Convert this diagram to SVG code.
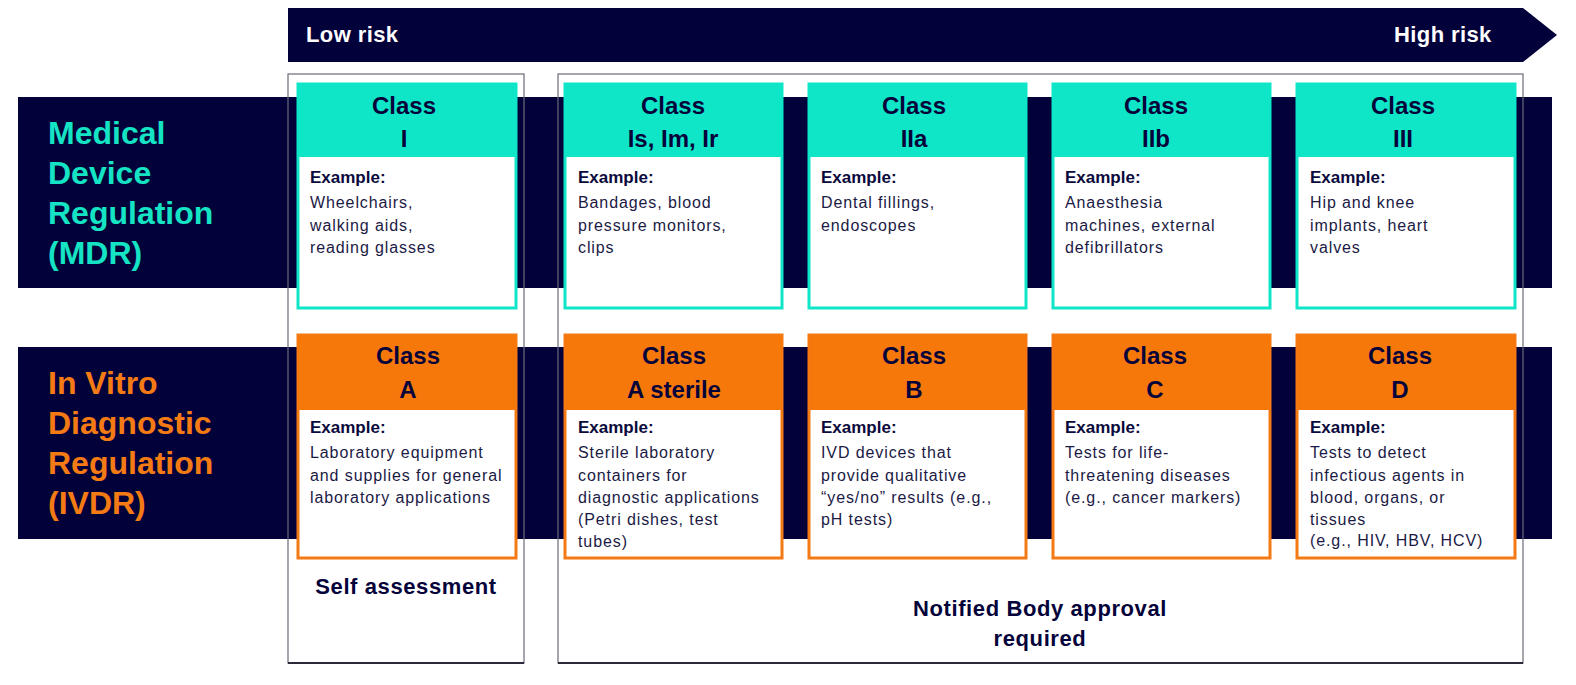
<svg xmlns="http://www.w3.org/2000/svg" width="1576" height="685" viewBox="0 0 1576 685">
<style>
.bg{fill:#ffffff}
.navy{fill:#03013a}
.box{fill:none;stroke:#6b6b78;stroke-width:1.2}
.boxb{stroke:#2a2a3a;stroke-width:2}
.risk{font-family:"Liberation Sans",Arial,sans-serif;font-weight:bold;font-size:22px;fill:#ffffff;letter-spacing:0.4px}
.lab{font-family:"Liberation Sans",Arial,sans-serif;font-weight:bold;font-size:32px}
.mdr{fill:#14e3c4}
.ivdr{fill:#f47b14}
.tcard{fill:#ffffff;stroke:#0fe6c8;stroke-width:3}
.thead{fill:#0fe6c8}
.ocard{fill:#ffffff;stroke:#f47b14;stroke-width:3}
.ohead{fill:#f7780a}
.cls{font-family:"Liberation Sans",Arial,sans-serif;font-weight:bold;font-size:24px;fill:#05033a;text-anchor:middle}
.ex{font-family:"Liberation Sans",Arial,sans-serif;font-weight:bold;font-size:17px;fill:#0b0a3c}
.body{font-family:"Liberation Sans",Arial,sans-serif;font-size:16px;fill:#1b1a45;letter-spacing:0.9px}
.foot{font-family:"Liberation Sans",Arial,sans-serif;font-weight:bold;font-size:22px;fill:#05033a;text-anchor:middle;letter-spacing:0.6px}
</style>
<rect class="bg" x="0" y="0" width="1576" height="685"/>

<g id="risk-arrow">
<polygon class="navy" points="288,8 1523,8 1557,35 1523,62 288,62"/>
<text class="risk" x="306" y="42">Low risk</text>
<text class="risk" x="1394" y="42">High risk</text>
</g>

<g id="bands">
<rect class="navy" x="18" y="97" width="1534" height="191"/>
<rect class="navy" x="18" y="347" width="1534" height="192"/>
</g>

<g id="mdr-label">
<text class="lab mdr" x="48" y="144">Medical</text>
<text class="lab mdr" x="48" y="184">Device</text>
<text class="lab mdr" x="48" y="224">Regulation</text>
<text class="lab mdr" x="48" y="264">(MDR)</text>
</g>

<g id="ivdr-label">
<text class="lab ivdr" x="48" y="394">In Vitro</text>
<text class="lab ivdr" x="48" y="434">Diagnostic</text>
<text class="lab ivdr" x="48" y="474">Regulation</text>
<text class="lab ivdr" x="48" y="514">(IVDR)</text>
</g>

<g id="self-assessment-box">
<rect class="box" x="288" y="74" width="236" height="589"/>
<line class="boxb" x1="288" y1="663" x2="524" y2="663"/>
<text class="foot" x="406" y="594">Self assessment</text>
</g>

<g id="notified-body-box">
<rect class="box" x="558" y="74" width="965" height="589"/>
<line class="boxb" x1="558" y1="663" x2="1523" y2="663"/>
<text class="foot" x="1040" y="616">Notified Body approval</text>
<text class="foot" x="1040" y="646">required</text>
</g>

<!-- MDR cards -->
<g id="mdr-class-I">
<rect class="tcard" x="298" y="84" width="218" height="224"/>
<rect class="thead" x="298" y="84" width="218" height="73"/>
<text class="cls" x="404" y="114">Class</text>
<text class="cls" x="404" y="147">I</text>
<text class="ex" x="310" y="183">Example:</text>
<text class="body" x="310" y="208">Wheelchairs,</text>
<text class="body" x="310" y="230.5">walking aids,</text>
<text class="body" x="310" y="253">reading glasses</text>
</g>

<g id="mdr-class-Is">
<rect class="tcard" x="565" y="84" width="217" height="224"/>
<rect class="thead" x="565" y="84" width="217" height="73"/>
<text class="cls" x="673" y="114">Class</text>
<text class="cls" x="673" y="147">Is, Im, Ir</text>
<text class="ex" x="578" y="183">Example:</text>
<text class="body" x="578" y="208">Bandages, blood</text>
<text class="body" x="578" y="230.5">pressure monitors,</text>
<text class="body" x="578" y="253">clips</text>
</g>

<g id="mdr-class-IIa">
<rect class="tcard" x="809" y="84" width="217" height="224"/>
<rect class="thead" x="809" y="84" width="217" height="73"/>
<text class="cls" x="914" y="114">Class</text>
<text class="cls" x="914" y="147">IIa</text>
<text class="ex" x="821" y="183">Example:</text>
<text class="body" x="821" y="208">Dental fillings,</text>
<text class="body" x="821" y="230.5">endoscopes</text>
</g>

<g id="mdr-class-IIb">
<rect class="tcard" x="1053" y="84" width="217" height="224"/>
<rect class="thead" x="1053" y="84" width="217" height="73"/>
<text class="cls" x="1156" y="114">Class</text>
<text class="cls" x="1156" y="147">IIb</text>
<text class="ex" x="1065" y="183">Example:</text>
<text class="body" x="1065" y="208">Anaesthesia</text>
<text class="body" x="1065" y="230.5">machines, external</text>
<text class="body" x="1065" y="253">defibrillators</text>
</g>

<g id="mdr-class-III">
<rect class="tcard" x="1297" y="84" width="218" height="224"/>
<rect class="thead" x="1297" y="84" width="218" height="73"/>
<text class="cls" x="1403" y="114">Class</text>
<text class="cls" x="1403" y="147">III</text>
<text class="ex" x="1310" y="183">Example:</text>
<text class="body" x="1310" y="208">Hip and knee</text>
<text class="body" x="1310" y="230.5">implants, heart</text>
<text class="body" x="1310" y="253">valves</text>
</g>

<!-- IVDR cards -->
<g id="ivdr-class-A">
<rect class="ocard" x="298" y="335" width="218" height="223"/>
<rect class="ohead" x="298" y="335" width="218" height="75"/>
<text class="cls" x="408" y="364">Class</text>
<text class="cls" x="408" y="398">A</text>
<text class="ex" x="310" y="433">Example:</text>
<text class="body" x="310" y="458">Laboratory equipment</text>
<text class="body" x="310" y="480.5">and supplies for general</text>
<text class="body" x="310" y="503">laboratory applications</text>
</g>

<g id="ivdr-class-A-sterile">
<rect class="ocard" x="565" y="335" width="217" height="223"/>
<rect class="ohead" x="565" y="335" width="217" height="75"/>
<text class="cls" x="674" y="364">Class</text>
<text class="cls" x="674" y="398">A sterile</text>
<text class="ex" x="578" y="433">Example:</text>
<text class="body" x="578" y="458">Sterile laboratory</text>
<text class="body" x="578" y="480.5">containers for</text>
<text class="body" x="578" y="503">diagnostic applications</text>
<text class="body" x="578" y="525">(Petri dishes, test</text>
<text class="body" x="578" y="547">tubes)</text>
</g>

<g id="ivdr-class-B">
<rect class="ocard" x="809" y="335" width="217" height="223"/>
<rect class="ohead" x="809" y="335" width="217" height="75"/>
<text class="cls" x="914" y="364">Class</text>
<text class="cls" x="914" y="398">B</text>
<text class="ex" x="821" y="433">Example:</text>
<text class="body" x="821" y="458">IVD devices that</text>
<text class="body" x="821" y="480.5">provide qualitative</text>
<text class="body" x="821" y="503">“yes/no” results (e.g.,</text>
<text class="body" x="821" y="525">pH tests)</text>
</g>

<g id="ivdr-class-C">
<rect class="ocard" x="1053" y="335" width="217" height="223"/>
<rect class="ohead" x="1053" y="335" width="217" height="75"/>
<text class="cls" x="1155" y="364">Class</text>
<text class="cls" x="1155" y="398">C</text>
<text class="ex" x="1065" y="433">Example:</text>
<text class="body" x="1065" y="458">Tests for life-</text>
<text class="body" x="1065" y="480.5">threatening diseases</text>
<text class="body" x="1065" y="503">(e.g., cancer markers)</text>
</g>

<g id="ivdr-class-D">
<rect class="ocard" x="1297" y="335" width="218" height="223"/>
<rect class="ohead" x="1297" y="335" width="218" height="75"/>
<text class="cls" x="1400" y="364">Class</text>
<text class="cls" x="1400" y="398">D</text>
<text class="ex" x="1310" y="433">Example:</text>
<text class="body" x="1310" y="458">Tests to detect</text>
<text class="body" x="1310" y="480.5">infectious agents in</text>
<text class="body" x="1310" y="503">blood, organs, or</text>
<text class="body" x="1310" y="525">tissues</text>
<text class="body" x="1310" y="546">(e.g., HIV, HBV, HCV)</text>
</g>

<g id="connectors"></g>
</svg>
